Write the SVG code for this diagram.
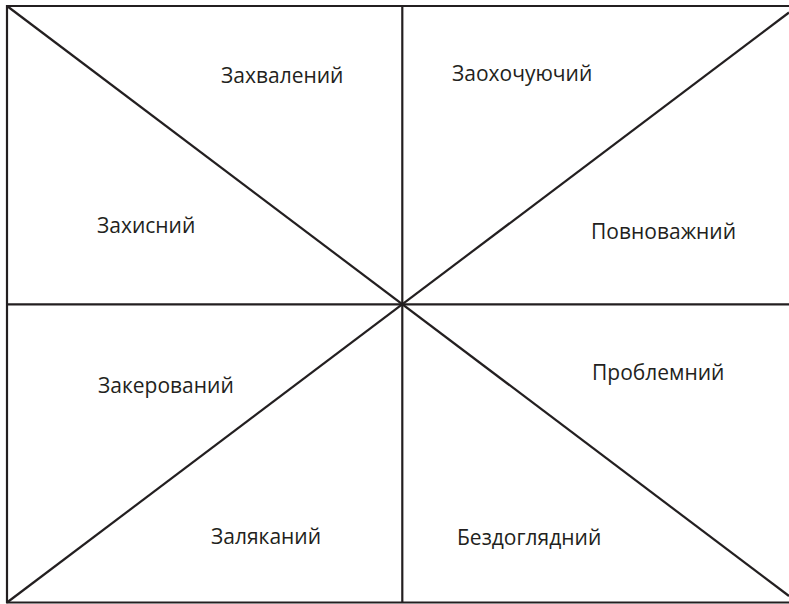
<svg xmlns="http://www.w3.org/2000/svg" width="789" height="604" viewBox="0 0 789 604">
<style>
.ln{stroke:#231f20;stroke-width:2.2;fill:none;stroke-linecap:butt}
.t{font-family:"Open Sans","Noto Sans","Liberation Sans",sans-serif;font-size:21px;fill:#231f20}
</style>
<rect width="789" height="604" fill="#ffffff"/>
<g id="connectors">
<path class="ln" d="M7,603 V6 H789"/>
<path class="ln" d="M6,602.5 H789"/>
<path class="ln" d="M402.3,6 V603"/>
<path class="ln" d="M7,304.3 H789"/>
<path class="ln" d="M7,6 L789,596"/>
<path class="ln" d="M7,602.5 L789,12.5"/>
</g>
<g id="n1"><text class="t" x="221" y="82.5">Захвалений</text></g>
<g id="n2"><text class="t" x="452" y="81">Заохочуючий</text></g>
<g id="n3"><text class="t" x="97" y="232.5">Захисний</text></g>
<g id="n4"><text class="t" x="591" y="239">Повноважний</text></g>
<g id="n5"><text class="t" x="98" y="393">Закерований</text></g>
<g id="n6"><text class="t" x="592" y="380">Проблемний</text></g>
<g id="n7"><text class="t" x="211" y="544">Заляканий</text></g>
<g id="n8"><text class="t" x="457" y="545">Бездоглядний</text></g>
</svg>
